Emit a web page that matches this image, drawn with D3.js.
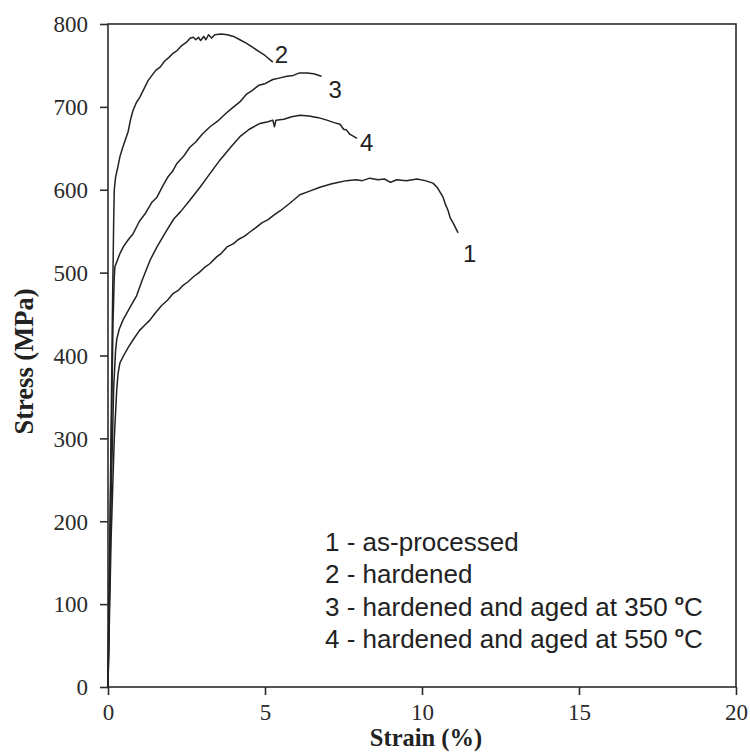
<!DOCTYPE html>
<html>
<head>
<meta charset="utf-8">
<script src="https://cdn.jsdelivr.net/npm/d3@7"></script>
<style>
  body { margin: 0; background: #fff; }
  svg { display: block; }
</style>
</head>
<body>
<svg></svg>
<script>
const size = { w: 750, h: 756 };
const margin = { t: 24, r: 14, b: 69, l: 108 };

// tick values
const xTicks = [0, 5, 10, 15, 20];
const yTicks = [0, 100, 200, 300, 400, 500, 600, 700, 800];

// curve labels and legend lines
const curveNames = ["1", "2", "3", "4"];
const legendLines = [
	["1 - as-processed", ""],
	["2 - hardened", ""],
	["3 - hardened and aged at 350 ", "C"],
	["4 - hardened and aged at 550 ", "C"],
];

// strain (%), stress (MPa)
const asProcessed = [
	[0, 0], [0.1, 180], [0.2, 300], [0.28, 360], [0.32, 378], [0.38, 391], [0.5, 400],
	[0.65, 410], [0.8, 419], [1.0, 430], [1.15, 436], [1.34, 443], [1.5, 451], [1.7, 460],
	[1.9, 467], [2.08, 475], [2.25, 479], [2.4, 485], [2.55, 489], [2.72, 495], [2.9, 500],
	[3.1, 507], [3.25, 511], [3.46, 519], [3.6, 523], [3.79, 531], [4.0, 535], [4.15, 540],
	[4.35, 544], [4.52, 549], [4.7, 554], [4.9, 560], [5.1, 564], [5.27, 569], [5.5, 575],
	[5.8, 584], [6.11, 594], [6.4, 598], [6.75, 603], [7.1, 607], [7.35, 609], [7.6, 611],
	[7.9, 612], [8.1, 611], [8.34, 614], [8.6, 612], [8.8, 613], [9.0, 609], [9.2, 612],
	[9.5, 611], [9.84, 613], [10.1, 611], [10.35, 608], [10.5, 602], [10.67, 591],
	[10.75, 582], [10.83, 575], [10.9, 566], [10.99, 560], [11.15, 548],
];
const hardened = [
	[0, 0], [0.08, 250], [0.14, 450], [0.18, 560], [0.2, 600], [0.24, 615], [0.3, 625],
	[0.38, 640], [0.46, 650], [0.55, 660], [0.64, 670], [0.72, 685], [0.8, 696], [0.9, 705],
	[1.02, 712], [1.15, 722], [1.28, 732], [1.4, 738], [1.52, 744], [1.66, 748], [1.8, 755],
	[1.95, 760], [2.08, 765], [2.2, 768], [2.35, 774], [2.5, 778], [2.62, 783], [2.72, 784],
	[2.8, 781], [2.88, 784], [2.95, 780], [3.05, 785], [3.12, 781], [3.2, 787], [3.3, 783],
	[3.4, 787], [3.6, 788], [3.8, 787], [4.0, 785], [4.2, 781], [4.4, 777], [4.6, 772],
	[4.8, 767], [5.0, 762], [5.25, 754],
];
const aged350 = [
	[0, 0], [0.1, 280], [0.16, 440], [0.2, 495], [0.22, 507], [0.3, 515], [0.38, 523],
	[0.5, 532], [0.65, 540], [0.8, 547], [1.0, 562], [1.2, 572], [1.4, 585], [1.56, 591],
	[1.75, 605], [1.9, 615], [2.05, 622], [2.2, 632], [2.4, 640], [2.6, 651], [2.8, 658],
	[3.0, 667], [3.25, 676], [3.5, 683], [3.75, 692], [4.0, 700], [4.2, 706], [4.4, 715],
	[4.6, 720], [4.8, 726], [5.0, 728], [5.25, 733], [5.48, 735], [5.7, 737], [5.9, 738],
	[6.1, 741], [6.34, 741], [6.55, 740], [6.8, 737],
];
const aged550 = [
	[0, 0], [0.1, 230], [0.18, 360], [0.24, 405], [0.28, 420], [0.36, 432], [0.48, 443],
	[0.7, 458], [0.91, 472], [1.1, 492], [1.34, 515], [1.56, 531], [1.87, 551], [2.1, 565],
	[2.3, 573], [2.6, 587], [2.93, 603], [3.2, 617], [3.57, 636], [3.9, 651], [4.2, 664],
	[4.5, 673], [4.84, 680], [5.1, 682], [5.25, 684], [5.3, 676], [5.35, 684], [5.6, 685],
	[5.85, 688], [6.11, 690], [6.4, 689], [6.7, 687], [6.97, 684], [7.2, 681], [7.39, 679],
	[7.5, 673], [7.6, 672], [7.7, 667], [7.93, 662],
];
const curves = [asProcessed, hardened, aged350, aged550];

const svg = d3.select("svg").attr("width", size.w).attr("height", size.h);
const plotW = size.w - margin.l - margin.r;
const plotH = size.h - margin.t - margin.b;

const x = d3.scaleLinear().domain([0, 20]).range([margin.l, margin.l + plotW]);
const y = d3.scaleLinear().domain([0, 800]).range([margin.t + plotH, margin.t]);

const ink = "#2b2b2b";
const serif = "'Liberation Serif', 'Times New Roman', serif";
const sans = "'Liberation Sans', Arial, sans-serif";

// frame
svg.append("rect")
	.attr("x", x(0)).attr("y", y(800))
	.attr("width", x(20) - x(0)).attr("height", y(0) - y(800))
	.attr("fill", "none").attr("stroke", ink).attr("stroke-width", 1.6);

// axes
const xAxis = svg.append("g")
	.attr("transform", `translate(0,${y(0)})`)
	.call(d3.axisBottom(x).tickValues(xTicks).tickSize(8).tickPadding(9).tickSizeOuter(0));
const yAxis = svg.append("g")
	.attr("transform", `translate(${x(0)},0)`)
	.call(d3.axisLeft(y).tickValues(yTicks).tickSize(8).tickPadding(12).tickSizeOuter(0));

[xAxis, yAxis].forEach((g) => {
	g.select(".domain").remove();
	g.selectAll(".tick line").attr("stroke", ink).attr("stroke-width", 1.6);
	g.selectAll(".tick text")
		.attr("fill", "#2a2a2a")
		.style("font-family", serif)
		.style("font-size", "23px");
});
yAxis.selectAll(".tick text").attr("dy", "0.34em");
xAxis.selectAll(".tick text").attr("dy", "0.68em");

// axis titles
svg.append("text")
	.attr("x", x(10) + 4).attr("y", 746)
	.attr("text-anchor", "middle")
	.style("font-family", serif).style("font-size", "24.5px").style("font-weight", "bold")
	.attr("fill", "#222")
	.text("Strain (%)");
svg.append("text")
	.attr("transform", `translate(33,${y(400) + 6}) rotate(-90)`)
	.attr("text-anchor", "middle")
	.style("font-family", serif).style("font-size", "26.5px").style("font-weight", "bold")
	.attr("fill", "#222")
	.text("Stress (MPa)");

// stress-strain curves
const line = d3.line().x((d) => x(d[0])).y((d) => y(d[1]));
svg.append("g").selectAll("path")
	.data(curves)
	.join("path")
	.attr("d", line)
	.attr("fill", "none")
	.attr("stroke", "#222")
	.attr("stroke-width", 1.5)
	.attr("stroke-linejoin", "round");

// number next to the end of each curve
const labelOffsets = [[5, 29], [2, 1], [7, 22], [3, 13]];
svg.append("g").selectAll("text")
	.data(curves)
	.join("text")
	.attr("x", (d, i) => x(d[d.length - 1][0]) + labelOffsets[i][0])
	.attr("y", (d, i) => y(d[d.length - 1][1]) + labelOffsets[i][1])
	.style("font-family", sans).style("font-size", "24px")
	.attr("fill", "#222")
	.text((d, i) => curveNames[i]);

// legend
const legend = svg.append("g")
	.style("font-family", sans).style("font-size", "26px")
	.attr("fill", "#222");
legendLines.forEach((l, i) => {
	const t = legend.append("text").attr("x", 325).attr("y", 551 + i * 32.4);
	t.append("tspan").text(l[0]);
	if (l[1]) {
		t.append("tspan").attr("dy", -11).style("font-size", "15px").style("font-weight", "bold").text("o");
		t.append("tspan").attr("dy", 11).text(l[1]);
	}
});
</script>
</body>
</html>
